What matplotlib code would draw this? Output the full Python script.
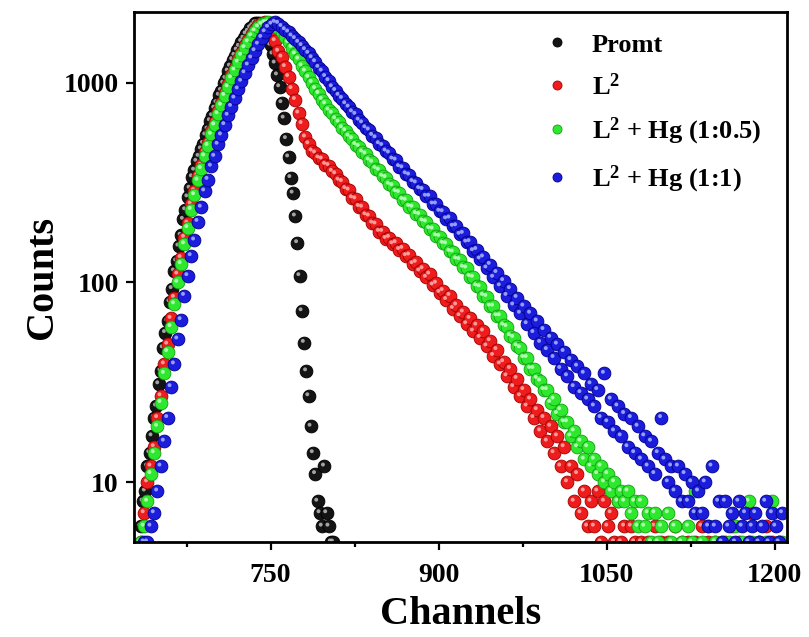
import matplotlib
matplotlib.use('Agg')
import matplotlib.pyplot as plt
import matplotlib.transforms as mtransforms
from matplotlib.lines import Line2D
import numpy as np

plt.rcParams['font.family'] = 'Liberation Serif'
plt.rcParams['font.weight'] = 'bold'
plt.rcParams['mathtext.fontset'] = 'custom'
plt.rcParams['mathtext.rm'] = 'Liberation Serif:bold'
plt.rcParams['mathtext.bf'] = 'Liberation Serif:bold'
plt.rcParams['mathtext.it'] = 'Liberation Serif:bold'

# Prompt (IRF) counts, every 2 channels starting at channel 634
promt_counts = [6, 8, 9, 12, 14, 17, 21, 24, 31, 36, 47, 56, 64, 80, 93, 114, 128, 152, 172, 207,
                231, 268, 296, 338, 365, 404, 428, 466, 497, 548, 586, 645, 684, 746, 795, 866, 915,
                995, 1052, 1145, 1212, 1305, 1372, 1458, 1522, 1610, 1672, 1758, 1810, 1885, 1932,
                1995, 2005, 1990, 1955, 1870, 1785, 1650, 1545, 1395, 1255, 1095, 955, 795, 665, 525,
                425, 335, 280, 215, 158, 108, 72, 50, 36, 27, 19, 14, 11, 8, 7, 6, 12, 7, 6, 5, 5]

# decay counts, every 3 channels starting at channel 634
l2_counts = [5, 7, 10, 12, 15, 21, 27, 39, 49, 66, 84, 110, 133, 168, 198, 247, 288, 343, 386, 449,
             502, 575, 636, 724, 796, 895, 985, 1095, 1195, 1315, 1415, 1545, 1645, 1765, 1855, 1945,
             1995, 2010, 1950, 1795, 1625, 1440, 1345, 1205, 1075, 935, 825, 705, 625, 535, 495, 455,
             445, 420, 415, 390, 385, 360, 350, 325, 320, 295, 290, 265, 262, 240, 238, 218, 215, 198,
             196, 180, 180, 166, 168, 156, 158, 146, 148, 136, 137, 124, 126, 114, 117, 106, 110, 97,
             99, 89, 91, 82, 86, 74, 77, 68, 71, 62, 66, 57, 61, 53, 57, 48, 51, 43, 46, 39, 40, 34,
             37, 30, 33, 27, 29, 24, 26, 21, 23, 18, 21, 16, 19, 14, 17, 12, 15, 10, 12, 8, 11, 7, 9,
             6, 8, 6, 9, 5, 8, 6, 7, 5, 8, 5, 6, 4, 6, 5, 4, 5, 3, 5, 4, 6, 4, 5, 3, 5, 4, 6, 4, 5, 3,
             5, 4, 5, 3, 6, 4, 5, 3, 5, 4, 3, 5, 4, 6, 3, 5, 4, 3, 5, 7, 4, 5, 3, 6, 4, 5, 3, 5, 4]

hg05_counts = [5, 6, 8, 11, 14, 19, 25, 35, 45, 60, 78, 100, 124, 156, 188, 232, 275, 325, 372, 430,
               485, 552, 615, 700, 772, 865, 955, 1060, 1160, 1270, 1375, 1500, 1605, 1720, 1820,
               1905, 1965, 2005, 2010, 1990, 1955, 1885, 1790, 1705, 1595, 1505, 1395, 1315, 1215,
               1145, 1065, 1005, 935, 885, 825, 785, 730, 705, 660, 635, 595, 575, 540, 525, 490, 480,
               450, 440, 410, 400, 372, 365, 340, 335, 310, 305, 285, 282, 260, 258, 240, 238, 221,
               219, 203, 201, 186, 185, 171, 170, 157, 156, 143, 142, 131, 130, 119, 118, 107, 106,
               96, 95, 86, 85, 76, 76, 68, 68, 61, 60, 54, 53, 48, 47, 42, 42, 37, 37, 33, 32, 29, 29,
               25, 26, 22, 23, 20, 20, 17, 18, 15, 16, 13, 15, 12, 13, 11, 12, 10, 11, 9, 10, 8, 9, 8,
               9, 7, 8, 6, 8, 6, 7, 5, 7, 5, 6, 4, 7, 5, 6, 4, 5, 4, 6, 5, 9, 4, 5, 4, 6, 3, 5, 4, 5,
               3, 5, 4, 6, 4, 5, 3, 8, 5, 4, 5, 3, 5, 4, 8, 4, 5, 5]

hg1_counts = [4, 5, 5, 6, 7, 9, 12, 16, 21, 30, 39, 52, 65, 86, 108, 136, 163, 202, 238, 287, 328,
              382, 428, 492, 548, 617, 688, 762, 838, 932, 1018, 1122, 1228, 1332, 1448, 1562, 1688,
              1802, 1898, 1968, 2010, 1985, 1915, 1845, 1795, 1715, 1665, 1595, 1535, 1465, 1405,
              1335, 1275, 1195, 1145, 1075, 1025, 955, 915, 865, 835, 785, 755, 715, 695, 650, 630,
              595, 580, 545, 530, 495, 485, 455, 445, 415, 410, 380, 375, 350, 345, 320, 315, 295,
              292, 270, 270, 247, 247, 227, 226, 208, 210, 191, 192, 174, 176, 159, 160, 144, 146,
              131, 134, 118, 123, 106, 112, 96, 102, 86, 93, 77, 84, 70, 76, 62, 70, 56, 64, 50, 58,
              46, 53, 42, 49, 37, 45, 34, 41, 30, 38, 28, 35, 26, 31, 24, 29, 21, 35, 20, 26, 18, 24,
              17, 22, 15, 21, 14, 19, 13, 17, 12, 16, 11, 14, 21, 13, 10, 12, 9, 12, 8, 11, 8, 10, 7,
              9, 7, 10, 6, 12, 6, 8, 5, 8, 6, 7, 5, 8, 6, 7, 5, 6, 7, 5, 6, 8, 5, 7, 6, 5, 7]

series = [
    ('Promt', promt_counts, 2, '#141414', '#000000', '#bdbdbd'),
    ('L$^{2}$', l2_counts, 3, '#ee1c1c', '#a00000', '#ffb0b0'),
    ('L$^{2}$ + Hg (1:0.5)', hg05_counts, 3, '#2ee82e', '#12a012', '#c8ffc8'),
    ('L$^{2}$ + Hg (1:1)', hg1_counts, 3, '#1c1cdc', '#00008c', '#a8b8ff'),
]

fig = plt.figure(figsize=(8.09, 6.37), dpi=100)
ax = fig.add_axes([0.1656, 0.149, 0.807, 0.832])

hl = mtransforms.offset_copy(ax.transData, fig=fig, x=-1.0, y=1.2, units='points')

handles = []
for label, counts, step, fc, ec, hc in series:
    ch = np.arange(634, 634 + step * len(counts), step)
    ax.scatter(ch, counts, s=85, c=fc, edgecolors=ec, linewidths=0.6, zorder=2)
    ax.scatter(ch, counts, s=8, c=hc, edgecolors='none', alpha=0.85, zorder=2, transform=hl)
    handles.append(Line2D([], [], ls='none', marker='o', ms=6.5, mfc=fc, mec=ec, mew=0.6))

ax.set_yscale('log')
ax.set_xlim(628, 1211)
ax.set_ylim(5, 2265)
ax.set_xticks([750, 900, 1050, 1200])
ax.set_xticks([675, 825, 975, 1125], minor=True)
ax.set_yticks([10, 100, 1000])
ax.set_yticklabels(['10', '100', '1000'])
ax.yaxis.set_minor_locator(matplotlib.ticker.NullLocator())

ax.tick_params(axis='both', which='major', length=6, width=1.6, labelsize=20, pad=5)
ax.tick_params(axis='x', which='major', pad=9)
ax.tick_params(axis='x', which='minor', length=3.6, width=1.6)
for sp in ax.spines.values():
    sp.set_linewidth(2.0)

ax.set_xlabel('Channels', fontsize=29, fontweight='bold', labelpad=6)
ax.set_ylabel('Counts', fontsize=29, fontweight='bold', labelpad=2)

ax.legend(handles, [s[0] for s in series], loc='upper left', bbox_to_anchor=(0.588, 1.005),
          frameon=False, prop={'family': 'Liberation Serif', 'weight': 'bold', 'size': 19},
          handletextpad=0.7, labelspacing=0.62, handlelength=1.2)

fig.savefig('out.png', dpi=100)
